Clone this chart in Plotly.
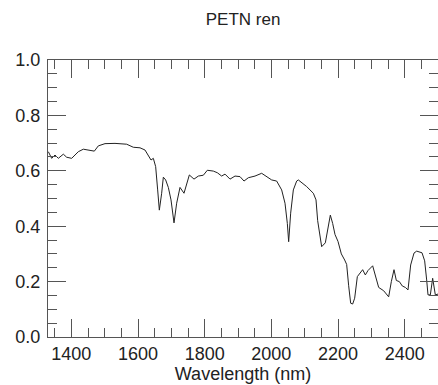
import plotly.graph_objects as go

wavelength = [1331, 1341, 1351, 1361, 1376, 1386, 1401, 1421, 1436, 1456, 1469, 1481, 1501, 1531,
              1566, 1586, 1606, 1621, 1631, 1639, 1646, 1653, 1659, 1664, 1671, 1676, 1683, 1691,
              1699, 1708, 1716, 1726, 1738, 1746, 1754, 1768, 1781, 1796, 1808, 1826, 1838, 1851,
              1861, 1876, 1891, 1906, 1918, 1931, 1951, 1971, 1986, 2001, 2016, 2031, 2041, 2048,
              2052, 2058, 2066, 2076, 2081, 2106, 2126, 2134, 2139, 2145, 2151, 2162, 2170, 2177,
              2184, 2191, 2200, 2210, 2220, 2226, 2232, 2238, 2244, 2250, 2258, 2266, 2274, 2282,
              2290, 2304, 2312, 2322, 2337, 2352, 2360, 2368, 2375, 2384, 2393, 2402, 2410, 2418,
              2428, 2436, 2452, 2460, 2466, 2470, 2477, 2484, 2492, 2500]
reflectance = [0.669, 0.645, 0.657, 0.645, 0.660, 0.649, 0.645, 0.669, 0.678, 0.675, 0.671, 0.690,
               0.698, 0.699, 0.696, 0.685, 0.683, 0.675, 0.657, 0.639, 0.645, 0.615, 0.531, 0.458,
               0.519, 0.577, 0.567, 0.540, 0.495, 0.412, 0.483, 0.540, 0.519, 0.555, 0.585, 0.570,
               0.581, 0.584, 0.602, 0.599, 0.593, 0.581, 0.588, 0.570, 0.581, 0.579, 0.563, 0.575,
               0.581, 0.591, 0.579, 0.567, 0.563, 0.531, 0.483, 0.410, 0.344, 0.447, 0.531, 0.563,
               0.567, 0.543, 0.519, 0.495, 0.420, 0.374, 0.326, 0.340, 0.398, 0.440, 0.410, 0.370,
               0.345, 0.300, 0.278, 0.262, 0.185, 0.122, 0.119, 0.140, 0.218, 0.233, 0.243, 0.224,
               0.240, 0.257, 0.226, 0.179, 0.167, 0.145, 0.200, 0.243, 0.204, 0.200, 0.184, 0.179,
               0.170, 0.260, 0.303, 0.310, 0.304, 0.275, 0.206, 0.152, 0.152, 0.212, 0.152, 0.155]

x_ticks = [1400, 1600, 1800, 2000, 2200, 2400]
y_ticks = [0.0, 0.2, 0.4, 0.6, 0.8, 1.0]
y_labels = ["0.0", "0.2", "0.4", "0.6", "0.8", "1.0"]

fig = go.Figure()
fig.add_trace(go.Scatter(x=wavelength, y=reflectance, mode="lines",
                         line=dict(color="#222222", width=1), showlegend=False))

font = "Liberation Sans, Arial, Helvetica, sans-serif"
axis_common = dict(showgrid=False, zeroline=False, showline=True, linecolor="#555555",
                   linewidth=1, mirror="ticks", ticks="inside", ticklen=18, tickwidth=1,
                   tickcolor="#555555", tickfont=dict(family=font, size=18, color="#222222"))

fig.update_layout(
    width=438, height=385,
    margin=dict(l=48, r=0, t=60, b=48),
    paper_bgcolor="white", plot_bgcolor="white",
    title=dict(text="PETN ren", x=0.555, xanchor="center", y=0.95, yanchor="middle",
               font=dict(family=font, size=17, color="#222222")),
    xaxis=dict(range=[1330, 2500], tickvals=x_ticks,
               title=dict(text="Wavelength (nm)", font=dict(family=font, size=18, color="#222222"),
                          standoff=2),
               minor=dict(dtick=50, tick0=1400, ticks="inside", ticklen=9, tickcolor="#555555"),
               **axis_common),
    yaxis=dict(range=[0, 1], tickvals=y_ticks, ticktext=y_labels, ticklabelstandoff=3,
               minor=dict(dtick=0.05, tick0=0, ticks="inside", ticklen=9, tickcolor="#555555"),
               **axis_common),
)

fig.write_html("out.html")
